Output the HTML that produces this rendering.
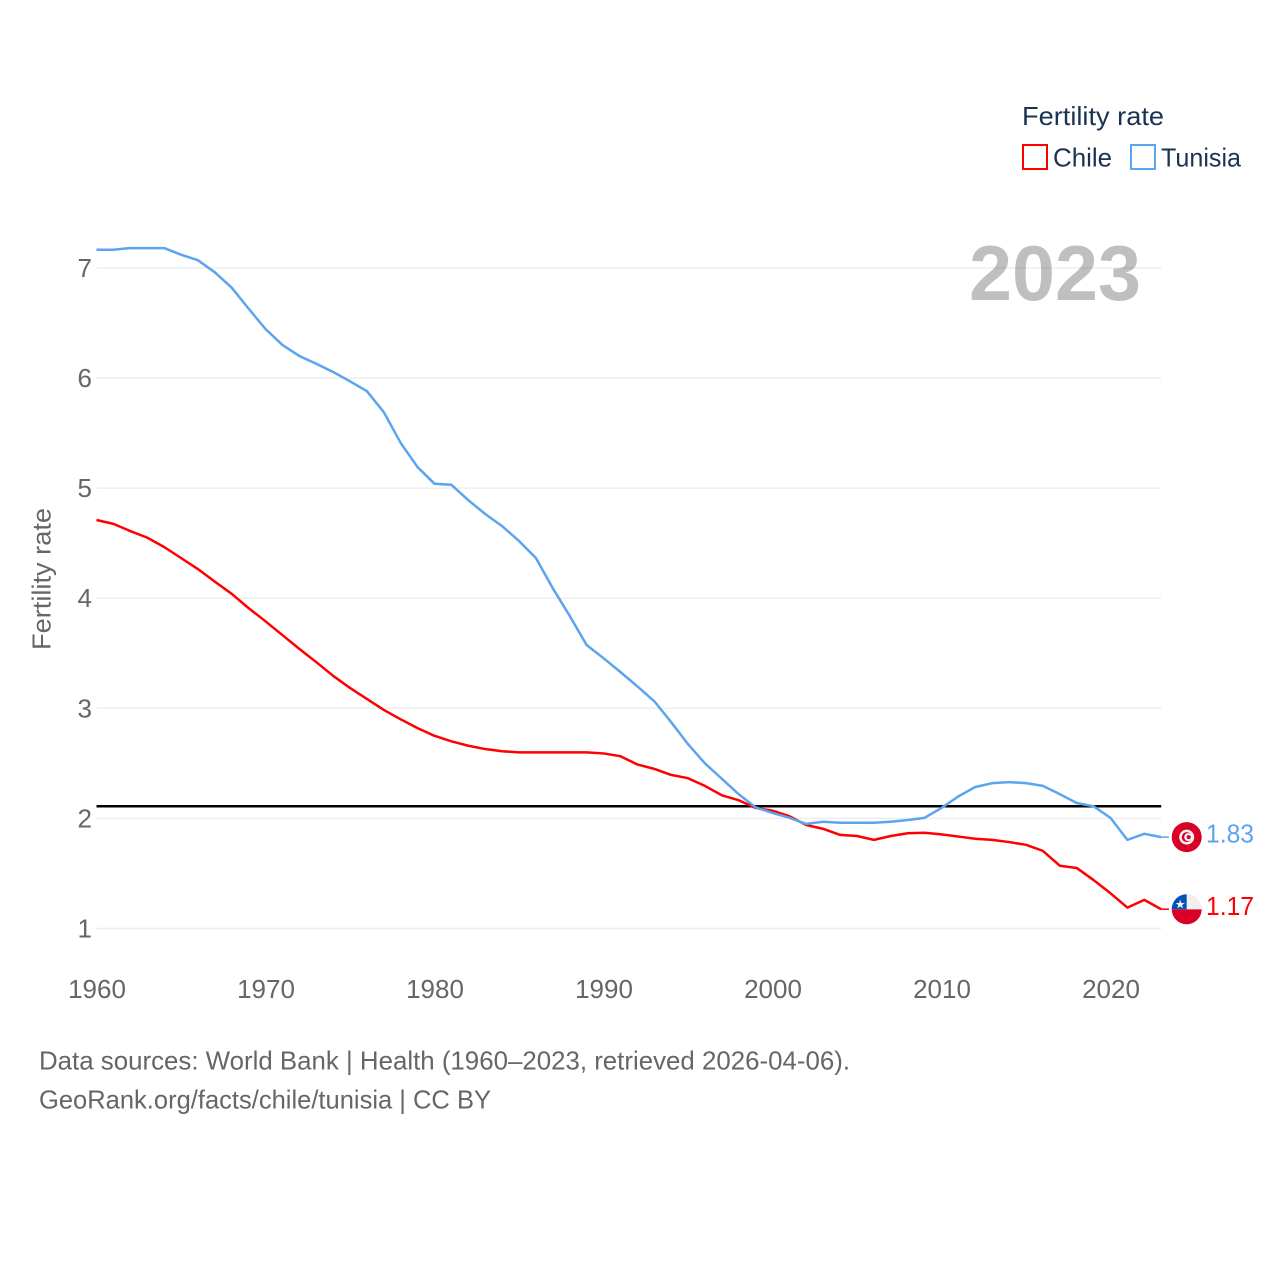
<!DOCTYPE html>
<html lang="en">
<head>
<meta charset="utf-8">
<title>Fertility rate: Chile and Tunisia</title>
<style>
  html, body { margin: 0; padding: 0; background: #fff; }
  svg { display: block; }
  text { font-family: "Liberation Sans", sans-serif; }
</style>
</head>
<body>
<svg id="chart" xmlns="http://www.w3.org/2000/svg" width="1280" height="1280" viewBox="0 0 1280 1280">
  <rect width="1280" height="1280" fill="#ffffff"/>
  <g id="grid"></g>
  <text x="969" y="300" font-size="78" font-weight="bold" fill="#000" fill-opacity="0.25" textLength="172" lengthAdjust="spacingAndGlyphs">2023</text>
  <g id="y-ticks"></g>
  <g id="x-ticks"></g>
  <text transform="translate(50.5 579) rotate(-90)" text-anchor="middle" font-size="26" fill="#666666" textLength="142" lengthAdjust="spacingAndGlyphs">Fertility rate</text>
  <g id="series"></g>

  <g id="flag-tunisia">
    <circle r="15" fill="#d80027"/>
    <circle r="7.5" fill="#f0f0f0"/>
    <circle r="5" fill="#d80027"/>
    <circle cx="1.5" r="4" fill="#f0f0f0"/>
    <circle cx="2" r="2" fill="#d80027"/>
  </g>
  <g id="flag-chile">
    <path d="M-15 0A15 15 0 0 0 15 0Z" fill="#d80027"/>
    <path d="M0 -15A15 15 0 0 1 15 0H0Z" fill="#f0f0f0"/>
    <path d="M-15 0A15 15 0 0 1 0 -15V0Z" fill="#0052b4"/>
    <path d="M-6.5 -9.5L-5.3 -6.2H-1.9L-4.6 -4.1L-3.6 -0.9L-6.5 -2.8L-9.4 -0.9L-8.4 -4.1L-11.1 -6.2H-7.7Z" fill="#f0f0f0"/>
  </g>

  <text id="label-tunisia" x="1206" y="843" font-size="26" fill="#5ba4ef" textLength="48" lengthAdjust="spacingAndGlyphs"></text>
  <text id="label-chile" x="1206" y="916" font-size="26" fill="#ff0000" textLength="48" lengthAdjust="spacingAndGlyphs"></text>

  <g>
    <text x="1022" y="125" font-size="26" fill="#1a3353" textLength="142" lengthAdjust="spacingAndGlyphs">Fertility rate</text>
    <g>
      <rect x="1023" y="145" width="24" height="24" fill="#ffffff" stroke="#ff0000" stroke-width="2"/>
      <text x="1053" y="166.5" font-size="26" fill="#1a3353" textLength="59" lengthAdjust="spacingAndGlyphs">Chile</text>
    </g>
    <g>
      <rect x="1131" y="145" width="24" height="24" fill="#ffffff" stroke="#5ba4ef" stroke-width="2"/>
      <text x="1161" y="166.5" font-size="26" fill="#1a3353" textLength="80" lengthAdjust="spacingAndGlyphs">Tunisia</text>
    </g>
  </g>

  <text x="39" y="1069.5" font-size="26" fill="#666666" textLength="811" lengthAdjust="spacingAndGlyphs">Data sources: World Bank | Health (1960–2023, retrieved 2026-04-06).</text>
  <text x="39" y="1108.5" font-size="26" fill="#666666" textLength="452" lengthAdjust="spacingAndGlyphs">GeoRank.org/facts/chile/tunisia | CC BY</text>
</svg>

<script>
const startYear = 1960;
const xTickYears = [1960, 1970, 1980, 1990, 2000, 2010, 2020];
const yTickValues = [1, 2, 3, 4, 5, 6, 7];
const replacementRate = [2.11, 2.11];
const replacementYears = [1960, 2023];
const chileValues = [
  4.71, 4.675, 4.61, 4.55, 4.465, 4.365, 4.265, 4.15, 4.04, 3.91,
  3.79, 3.665, 3.54, 3.42, 3.295, 3.185, 3.085, 2.985, 2.90, 2.82,
  2.75, 2.70, 2.66, 2.63, 2.61, 2.60, 2.60, 2.60, 2.60, 2.60,
  2.59, 2.565, 2.49, 2.45, 2.395, 2.365, 2.295, 2.21, 2.165, 2.095,
  2.07, 2.02, 1.94, 1.905, 1.85, 1.84, 1.805, 1.84, 1.865, 1.87,
  1.855, 1.835, 1.815, 1.805, 1.785, 1.76, 1.705, 1.57, 1.55, 1.44,
  1.32, 1.19, 1.26, 1.175
];
const tunisiaValues = [
  7.165, 7.165, 7.18, 7.18, 7.18, 7.12, 7.07, 6.96, 6.82, 6.63,
  6.445, 6.30, 6.20, 6.13, 6.055, 5.97, 5.88, 5.69, 5.41, 5.19,
  5.04, 5.03, 4.89, 4.765, 4.655, 4.52, 4.365, 4.09, 3.84, 3.575,
  3.455, 3.33, 3.20, 3.065, 2.875, 2.675, 2.50, 2.36, 2.22, 2.10,
  2.05, 2.005, 1.95, 1.97, 1.96, 1.96, 1.96, 1.97, 1.985, 2.005,
  2.095, 2.20, 2.285, 2.32, 2.33, 2.32, 2.295, 2.22, 2.14, 2.11,
  2.005, 1.805, 1.86, 1.83
];
const chileEndLabel = "1.17";
const tunisiaEndLabel = "1.83";

const SVG_NS = "http://www.w3.org/2000/svg";
function xScale(year) { return 96.5 + (year - 1960) * 16.9; }
function yScale(value) { return 928.5 - (value - 1) * 110.1; }
function makeEl(tag, attrs, parent) {
  const el = document.createElementNS(SVG_NS, tag);
  for (const key in attrs) el.setAttribute(key, attrs[key]);
  parent.appendChild(el);
  return el;
}
function linePath(values) {
  return values.map(function (v, i) {
    return (i ? "L" : "M") + xScale(startYear + i).toFixed(2) + " " + yScale(v).toFixed(2);
  }).join("");
}

const gridGroup = document.getElementById("grid");
const yTickGroup = document.getElementById("y-ticks");
const xTickGroup = document.getElementById("x-ticks");
const seriesGroup = document.getElementById("series");

yTickValues.forEach(function (v) {
  const line = makeEl("line", {
    x1: xScale(1960), x2: xScale(2023), y1: yScale(v), y2: yScale(v),
    stroke: "#eeeeee", "stroke-width": 1.5
  }, gridGroup);
  
  

  const label = makeEl("text", {
    x: 92, y: yScale(v) + 9, "text-anchor": "end", "font-size": 26, fill: "#666666"
  }, yTickGroup);
  label.textContent = String(v);
  
  
});

xTickYears.forEach(function (year) {
  const label = makeEl("text", {
    x: xScale(year) + 0.5, y: 998, "text-anchor": "middle", "font-size": 26, fill: "#666666"
  }, xTickGroup);
  label.textContent = String(year);
  
  
});

const refLine = makeEl("line", {
  x1: xScale(replacementYears[0]), x2: xScale(replacementYears[1]),
  y1: yScale(replacementRate[0]), y2: yScale(replacementRate[1]),
  stroke: "#000000", "stroke-width": 2.5
}, seriesGroup);



const chileLine = makeEl("path", {
  d: linePath(chileValues), fill: "none", stroke: "#ff0000",
  "stroke-width": 2.5, "stroke-linejoin": "round"
}, seriesGroup);



const tunisiaLine = makeEl("path", {
  d: linePath(tunisiaValues), fill: "none", stroke: "#5ba4ef",
  "stroke-width": 2.5, "stroke-linejoin": "round"
}, seriesGroup);



const chileLast = yScale(chileValues[chileValues.length - 1]);
const tunisiaLast = yScale(tunisiaValues[tunisiaValues.length - 1]);

const chileConnector = makeEl("line", {
  x1: xScale(2023), x2: 1169, y1: chileLast, y2: chileLast,
  stroke: "#ff0000", "stroke-width": 1.5
}, seriesGroup);



const tunisiaConnector = makeEl("line", {
  x1: xScale(2023), x2: 1169, y1: tunisiaLast, y2: tunisiaLast,
  stroke: "#5ba4ef", "stroke-width": 1.5
}, seriesGroup);



document.getElementById("flag-chile").setAttribute("transform", "translate(1186.7 " + chileLast + ")");
document.getElementById("flag-tunisia").setAttribute("transform", "translate(1186.7 " + tunisiaLast + ")");

const chileLabel = document.getElementById("label-chile");
chileLabel.textContent = chileEndLabel;
chileLabel.setAttribute("y", chileLast + 6);
const tunisiaLabel = document.getElementById("label-tunisia");
tunisiaLabel.textContent = tunisiaEndLabel;
tunisiaLabel.setAttribute("y", tunisiaLast + 5.5);
</script>
</body>
</html>
